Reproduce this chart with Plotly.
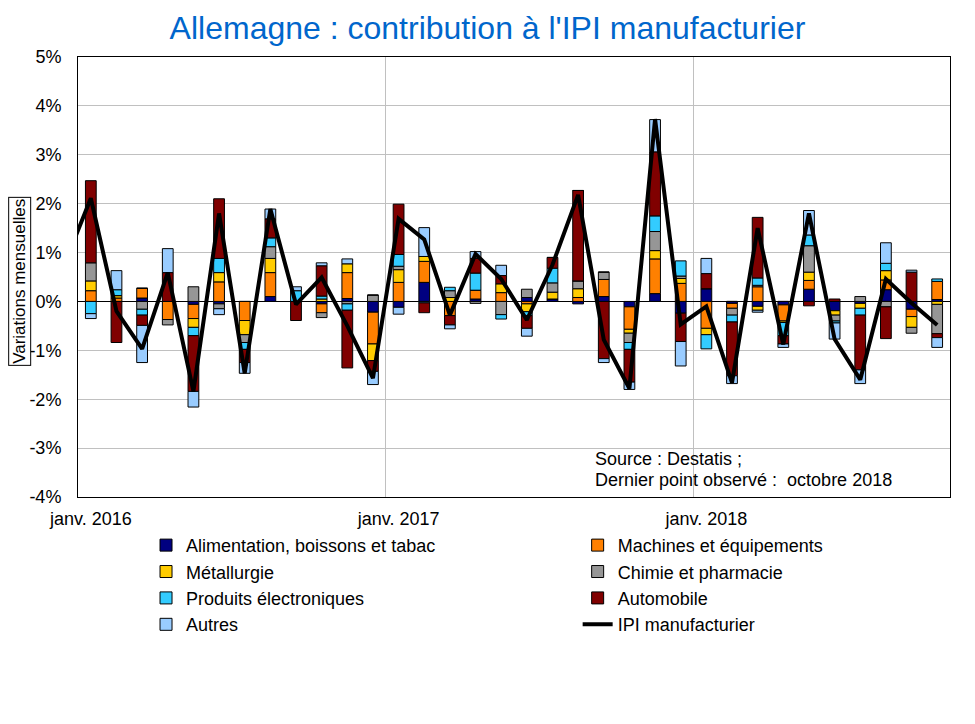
import plotly.graph_objects as go

months = list(range(34))
tick_pos = [0, 12, 24]
tick_labels = ["janv. 2016", "janv. 2017", "janv. 2018"]
y_ticks = list(range(-4, 6))
y_tick_labels = [f"{v}%" for v in y_ticks]

alim = [0, 0, 0.07, 0, -0.06, -0.05, 0, 0.10, 0, -0.05, 0.06, -0.22, -0.12, 0.39, 0, 0.05, 0, 0.08,
        0.05, -0.05, 0.10, -0.11, 0.16, -0.24, 0.26, -0.04, -0.10, -0.07, 0.25, -0.19, -0.04, 0.24, -0.16, 0.04]
machines = [0.22, 0.07, 0.20, -0.37, -0.29, 0.40, -0.39, 0.49, 0, -0.18, 0.53, -0.65, 0.39, 0.43, -0.29, 0.18, 0.18, -0.05,
            0, 0.08, 0.35, -0.46, 0.71, 0.37, -0.55, -0.10, 0.30, -0.33, 0.18, 0, 0, 0.20, -0.15, 0.37]
metal = [0.20, 0.05, 0, 0, -0.18, 0.19, -0.29, 0.29, 0, 0.05, 0.18, -0.34, 0.26, 0.10, 0.08, 0, 0.18, -0.16,
         0.14, 0.18, 0, -0.08, 0.17, 0.10, -0.13, 0, -0.08, -0.03, 0.17, -0.09, -0.10, 0.19, -0.22, -0.06]
chimie = [0.37, 0, -0.16, -0.11, 0.30, -0.10, -0.16, 0.24, 0, -0.10, -0.05, 0.13, 0.07, 0, 0.14, -0.04, -0.27, 0.17,
          0.19, 0.16, 0.15, -0.19, 0.39, 0.05, 0, -0.14, 0.03, 0, 0.54, -0.12, 0.10, -0.11, -0.12, -0.60]
electr = [-0.25, 0.12, -0.12, 0, -0.17, 0.29, -0.14, 0.18, 0.22, 0.06, -0.13, 0, 0.24, -0.03, 0.07, 0.35, -0.09, -0.08,
          0.30, 0, 0, -0.14, 0.32, 0.31, -0.29, -0.14, 0.15, -0.27, 0.22, -0.04, -0.14, 0.15, 0, 0.05]
auto = [1.68, -0.84, -0.21, 0.59, -1.14, 1.22, -0.27, 0.39, -0.39, 0.62, -1.18, -0.22, 1.03, -0.20, -0.19, 0.30, 0.17, -0.26,
        0.22, 1.85, -1.17, -0.67, 1.31, -0.58, 0.31, -1.10, 1.24, -0.17, -0.09, 0.05, -1.12, -0.65, 0.60, -0.08]
autres = [-0.10, 0.39, -0.76, 0.49, -0.32, -0.12, -0.22, 0.20, 0.08, 0.06, 0.10, -0.27, -0.14, 0.59, -0.08, 0.14, 0.21, -0.16,
          0, 0, -0.08, -0.15, 0.66, -0.50, 0.31, -0.16, -0.04, -0.07, 0.50, -0.33, -0.28, 0.42, 0.04, -0.20]

# IPI line (first point = décembre 2015, outside the visible range)
ipi_months = list(range(-1, 34))
ipi = [0.8, 2.11, -0.20, -0.97, 0.59, -1.84, 1.80, -1.47, 1.89, -0.06, 0.49, -0.50, -1.57, 1.69, 1.27, -0.28, 0.97, 0.46,
       -0.38, 0.75, 2.18, -0.78, -1.78, 3.73, -0.47, -0.10, -1.66, 1.50, -0.88, 1.80, -0.77, -1.60, 0.46, -0.03, -0.48]

# (name, values, colour, legend column)
series = [
    ("Alimentation, boissons et tabac", alim, "#000080", "legend"),
    ("Machines et équipements", machines, "#FF8000", "legend2"),
    ("Métallurgie", metal, "#FFCC00", "legend"),
    ("Chimie et pharmacie", chimie, "#969696", "legend2"),
    ("Produits électroniques", electr, "#33CCFF", "legend"),
    ("Automobile", auto, "#800000", "legend2"),
    ("Autres", autres, "#99CCFF", "legend"),
]

FONT = "Arial, 'Liberation Sans', sans-serif"

fig = go.Figure()
for name, vals, col, leg in series:
    fig.add_trace(go.Bar(x=months, y=vals, name=name, legend=leg,
                         marker=dict(color=col, line=dict(color="black", width=1))))
fig.add_trace(go.Scatter(x=ipi_months, y=ipi, name="IPI manufacturier", mode="lines", legend="legend2",
                         line=dict(color="black", width=4)))

legend_common = dict(orientation="v", yanchor="top", xanchor="left", font=dict(size=18),
                     traceorder="normal", tracegroupgap=0, bgcolor="rgba(0,0,0,0)")

fig.update_layout(
    width=959, height=708,
    barmode="relative", bargap=0.58,
    plot_bgcolor="white", paper_bgcolor="white",
    margin=dict(l=70, r=17, t=49, b=219),
    font=dict(family=FONT, size=18, color="black"),
    title=dict(text="Allemagne : contribution à l'IPI manufacturier", x=0.5, xanchor="center",
               y=0.972, yanchor="middle", font=dict(family=FONT, size=32, color="#0066CC")),
    showlegend=True,
    legend=dict(x=0.078, y=-0.068, **legend_common),
    legend2=dict(x=0.573, y=-0.068, **legend_common),
)
fig.update_xaxes(range=[-0.5, 33.5], tickvals=tick_pos, ticktext=tick_labels, showgrid=False,
                 showline=True, linecolor="black", linewidth=1, mirror=True, ticks="",
                 tickfont=dict(size=18), ticklabelstandoff=5,
                 minor=dict(tickvals=[-0.5, 11.5, 23.5], showgrid=True, gridcolor="#C0C0C0", gridwidth=1))
fig.update_yaxes(range=[-4, 5], tickvals=y_ticks, ticktext=y_tick_labels, showgrid=True,
                 gridcolor="#C0C0C0", gridwidth=1, zeroline=True, zerolinecolor="black", zerolinewidth=1,
                 showline=True, linecolor="black", linewidth=1, mirror=True, ticks="",
                 tickfont=dict(size=18), ticklabelstandoff=12)

fig.add_annotation(text="Variations mensuelles", xref="paper", yref="paper", x=-0.0665, y=0.489,
                   xanchor="center", yanchor="middle",
                   textangle=-90, showarrow=False, font=dict(size=17), bordercolor="black", borderwidth=1,
                   borderpad=1, bgcolor="white")
fig.add_annotation(text="Source : Destatis ;", xref="paper", yref="paper",
                   x=0.5906, y=0.0864, xanchor="left", yanchor="middle", align="left", showarrow=False,
                   font=dict(size=18))
fig.add_annotation(text="Dernier point observé :  octobre 2018", xref="paper", yref="paper",
                   x=0.5906, y=0.0386, xanchor="left", yanchor="middle", align="left", showarrow=False,
                   font=dict(size=18))

fig.write_html("out.html")
